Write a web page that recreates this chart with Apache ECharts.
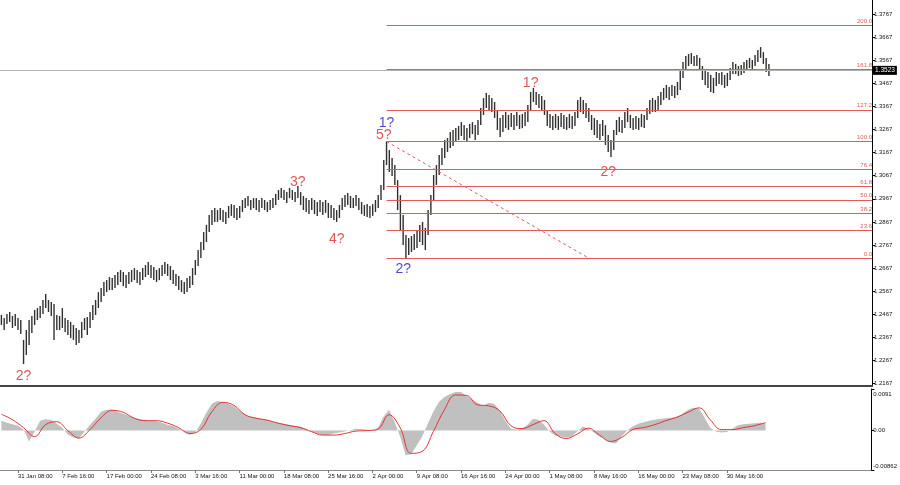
<!DOCTYPE html>
<html><head><meta charset="utf-8">
<script src="https://cdn.jsdelivr.net/npm/echarts@6/dist/echarts.min.js"></script>
<style>html,body{margin:0;padding:0;background:#fff}#c{width:900px;height:485px}</style>
</head><body><div id="c"></div>
<script>
// 8-hour bars (GBP/USD style), highs and lows
const highs = [
1.2464,1.2451,1.2468,1.2477,1.2460,1.2468,1.2451,1.2442,1.2356,1.2399,
1.2442,1.2460,1.2486,1.2494,1.2503,1.2529,1.2555,1.2529,1.2520,1.2512,
1.2464,1.2460,1.2494,1.2451,1.2442,1.2434,1.2421,1.2408,1.2399,1.2434,
1.2451,1.2455,1.2477,1.2507,1.2529,1.2563,1.2581,1.2607,1.2615,1.2628,
1.2624,1.2637,1.2650,1.2659,1.2650,1.2637,1.2650,1.2659,1.2667,1.2659,
1.2650,1.2667,1.2680,1.2693,1.2680,1.2672,1.2659,1.2667,1.2680,1.2693,
1.2685,1.2676,1.2659,1.2641,1.2633,1.2615,1.2607,1.2624,1.2633,1.2667,
1.2702,1.2745,1.2780,1.2823,1.2854,1.2897,1.2918,1.2927,1.2918,1.2927,
1.2918,1.2910,1.2936,1.2944,1.2940,1.2927,1.2936,1.2962,1.2970,1.2979,
1.2962,1.2970,1.2970,1.2962,1.2970,1.2962,1.2953,1.2962,1.2970,1.2988,
1.3005,1.3014,1.3005,1.2996,1.3014,1.3005,1.2996,1.3022,1.2996,1.2979,
1.2970,1.2962,1.2970,1.2962,1.2953,1.2962,1.2953,1.2962,1.2949,1.2940,
1.2927,1.2918,1.2940,1.2970,1.2983,1.2992,1.2979,1.2970,1.2983,1.2970,
1.2953,1.2940,1.2944,1.2936,1.2944,1.2962,1.2983,1.3027,1.3135,1.3215,
1.3178,1.3144,1.3113,1.3048,1.2983,1.2897,1.2810,1.2797,1.2806,1.2815,
1.2832,1.2854,1.2867,1.2841,1.2918,1.2983,1.3070,1.3113,1.3157,1.3187,
1.3221,1.3230,1.3256,1.3265,1.3273,1.3282,1.3299,1.3286,1.3273,1.3291,
1.3299,1.3286,1.3308,1.3360,1.3403,1.3425,1.3416,1.3403,1.3386,1.3351,
1.3317,1.3330,1.3343,1.3330,1.3338,1.3330,1.3343,1.3330,1.3334,1.3343,
1.3373,1.3429,1.3447,1.3429,1.3421,1.3412,1.3395,1.3351,1.3334,1.3325,
1.3334,1.3325,1.3338,1.3330,1.3321,1.3334,1.3325,1.3343,1.3395,1.3408,
1.3395,1.3382,1.3360,1.3330,1.3317,1.3308,1.3291,1.3308,1.3286,1.3243,
1.3221,1.3265,1.3308,1.3321,1.3308,1.3343,1.3360,1.3330,1.3317,1.3325,
1.3317,1.3334,1.3330,1.3360,1.3395,1.3403,1.3395,1.3412,1.3429,1.3447,
1.3460,1.3451,1.3460,1.3455,1.3473,1.3525,1.3559,1.3585,1.3594,1.3598,
1.3585,1.3590,1.3577,1.3542,1.3525,1.3516,1.3503,1.3490,1.3516,1.3512,
1.3516,1.3503,1.3512,1.3533,1.3559,1.3551,1.3542,1.3546,1.3559,1.3568,
1.3577,1.3568,1.3590,1.3611,1.3624,1.3602,1.3577,1.3551];
const lows = [
1.2421,1.2399,1.2425,1.2434,1.2408,1.2416,1.2399,1.2382,1.2252,1.2291,
1.2334,1.2386,1.2421,1.2442,1.2451,1.2468,1.2494,1.2477,1.2460,1.2356,
1.2399,1.2399,1.2408,1.2390,1.2377,1.2364,1.2356,1.2334,1.2343,1.2364,
1.2399,1.2377,1.2408,1.2442,1.2464,1.2494,1.2520,1.2546,1.2563,1.2572,
1.2572,1.2581,1.2594,1.2607,1.2589,1.2581,1.2598,1.2607,1.2615,1.2603,
1.2594,1.2615,1.2628,1.2637,1.2624,1.2615,1.2607,1.2615,1.2633,1.2641,
1.2633,1.2615,1.2598,1.2589,1.2572,1.2563,1.2555,1.2563,1.2581,1.2594,
1.2637,1.2676,1.2711,1.2745,1.2780,1.2823,1.2854,1.2867,1.2867,1.2875,
1.2867,1.2858,1.2884,1.2893,1.2884,1.2875,1.2884,1.2910,1.2927,1.2936,
1.2918,1.2927,1.2918,1.2910,1.2927,1.2918,1.2910,1.2918,1.2927,1.2940,
1.2962,1.2970,1.2962,1.2949,1.2970,1.2962,1.2953,1.2970,1.2940,1.2918,
1.2910,1.2901,1.2918,1.2901,1.2893,1.2910,1.2897,1.2906,1.2884,1.2884,
1.2875,1.2867,1.2884,1.2918,1.2931,1.2940,1.2927,1.2927,1.2936,1.2918,
1.2901,1.2893,1.2888,1.2884,1.2893,1.2910,1.2927,1.2962,1.3005,1.3113,
1.3083,1.3066,1.3027,1.2918,1.2832,1.2767,1.2710,1.2724,1.2737,1.2745,
1.2754,1.2780,1.2767,1.2745,1.2810,1.2897,1.2962,1.3027,1.3070,1.3113,
1.3144,1.3170,1.3187,1.3196,1.3213,1.3221,1.3239,1.3221,1.3213,1.3230,
1.3247,1.3221,1.3243,1.3286,1.3330,1.3360,1.3351,1.3343,1.3317,1.3265,
1.3234,1.3256,1.3273,1.3265,1.3278,1.3265,1.3282,1.3269,1.3273,1.3282,
1.3299,1.3351,1.3386,1.3373,1.3360,1.3351,1.3330,1.3282,1.3273,1.3265,
1.3273,1.3265,1.3278,1.3269,1.3265,1.3273,1.3269,1.3282,1.3317,1.3343,
1.3334,1.3317,1.3299,1.3265,1.3243,1.3230,1.3221,1.3239,1.3200,1.3170,
1.3148,1.3178,1.3243,1.3256,1.3252,1.3273,1.3299,1.3273,1.3265,1.3269,
1.3265,1.3278,1.3273,1.3308,1.3334,1.3343,1.3343,1.3351,1.3373,1.3395,
1.3403,1.3395,1.3412,1.3403,1.3416,1.3438,1.3490,1.3525,1.3542,1.3551,
1.3542,1.3542,1.3525,1.3481,1.3460,1.3447,1.3429,1.3425,1.3455,1.3464,
1.3460,1.3447,1.3455,1.3481,1.3507,1.3507,1.3499,1.3503,1.3512,1.3525,
1.3533,1.3525,1.3542,1.3559,1.3577,1.3551,1.3516,1.3499];

// MACD histogram (one value every 2 bars) and signal line (one value every 4 bars)
const macdHist = [
0.00217,0.00173,0.00141,0.00108,0.00022,-0.00238,-0.00022,0.00217,0.00249,0.00238,
0.00152,0.00065,-0.00087,-0.00152,-0.00173,-0.00022,0.0013,0.0026,0.00412,0.00455,
0.00455,0.00412,0.00368,0.00325,0.00282,0.00249,0.00238,0.00217,0.00206,0.00173,
0.0013,0.00098,0.00043,-0.00022,-0.00098,-0.00043,0.00152,0.0039,0.00585,0.0065,
0.00628,0.00585,0.00531,0.00433,0.00347,0.00303,0.00282,0.0026,0.00238,0.00195,
0.00173,0.00152,0.0013,0.00108,0.00087,0.00033,-0.00022,-0.00065,-0.00098,-0.00098,
-0.00065,-0.00043,-0.00022,0.00011,0.00043,0.00033,0.00022,-0.00011,0.00065,0.00303,
0.00455,0.00195,-0.0013,-0.00542,-0.0052,-0.00325,-0.0013,0.00152,0.00412,0.00628,
0.00737,0.00802,0.00845,0.00845,0.00758,0.00683,0.00607,0.00542,0.00607,0.00585,
0.00433,0.00217,0.00043,0.00022,0.00043,0.0013,0.0026,0.00238,0.0013,-0.00022,
-0.00108,-0.0013,-0.00152,-0.0013,-0.00022,0.00087,0.00043,-0.00043,-0.0013,-0.00195,
-0.0026,-0.00282,-0.0013,0,0.00087,0.00152,0.00184,0.00217,0.00238,0.0026,
0.00271,0.00282,0.00303,0.00368,0.00455,0.00498,0.00477,0.00282,0.00065,-0.00022,
-0.00043,-0.00033,0.00043,0.00119,0.00141,0.00152,0.00163,0.00173,0.00163];
const macdSignal = [
0.00358,0.00238,0.00065,-0.0013,0.0013,0.00195,0,-0.00163,0.00022,0.00282,
0.00444,0.00401,0.00271,0.00217,0.00217,0.00163,0.00065,-0.00065,0.00022,0.00412,
0.00618,0.00553,0.00347,0.00271,0.00228,0.00163,0.00108,0.00065,-0.00022,-0.00098,
-0.00098,-0.00065,-0.00011,0,0.00033,0.00347,0.00065,-0.00498,-0.00455,-0.00022,
0.00455,0.0078,0.00769,0.00563,0.00542,0.00433,0.00108,0.00043,0.0013,0.00217,
-0.00065,-0.00173,-0.00076,0.00054,-0.00098,-0.00238,-0.00152,0.00022,0.00065,0.0013,
0.00217,0.00293,0.00401,0.00498,0.00238,0.00022,0.00022,0.00065,0.00108,0.00173];
const histStep = 2, signalStep = 4;

// time axis labels (every 16 eight-hour bars starting at bar 6)
const tickLabels = ['31 Jan 08:00','7 Feb 16:00','17 Feb 00:00','24 Feb 08:00','3 Mar 16:00','11 Mar 00:00',
 '18 Mar 08:00','25 Mar 16:00','2 Apr 00:00','9 Apr 08:00','16 Apr 16:00','24 Apr 00:00','1 May 08:00',
 '8 May 16:00','16 May 00:00','23 May 08:00','30 May 16:00'];
const firstTickBar = 6, tickStep = 16;

// price axis labels
const priceTicks = [1.2167,1.2267,1.2367,1.2467,1.2567,1.2667,1.2767,1.2867,1.2967,1.3067,1.3167,1.3267,1.3367,1.3467,1.3567,1.3667,1.3767];
const macdTicks = [0.0091, 0, -0.00862];
const bidPrice = 1.3523;

// Fibonacci tool
const fibLow = 1.2710, fibHigh = 1.3215, fibStartBar = 139, fibDiagEndBar = 212;
const fibRatios = [0, 23.6, 38.2, 50, 61.8, 76.4, 100, 127.2, 161.8, 200];

// wave labels: [text, bar, price, colour group]
const waveLabels = [
 ['2?', 8, 1.2200, 'r'], ['3?', 107, 1.3040, 'r'], ['4?', 121, 1.2793, 'r'],
 ['1?', 139, 1.3295, 'b'], ['5?', 138, 1.3243, 'r'], ['2?', 145, 1.2663, 'b'],
 ['1?', 191, 1.3468, 'r'], ['2?', 219, 1.3083, 'r']];

const XMAX = 314.2;
const RED = '#d92a2a', BLUE = '#1c1cb8', FIB = '#e25a5a';
const FONT = 'Liberation Sans';
const tickBars = tickLabels.map((_, j) => firstTickBar + j * tickStep);

const fibLines = fibRatios.map(r => {
  const v = fibLow + (fibHigh - fibLow) * r / 100;
  return [{name: r.toFixed(1), coord: [fibStartBar, v]}, {coord: [XMAX, v]}];
});
fibLines.push([{coord: [fibStartBar, fibHigh], lineStyle: {type: [3, 3], color: FIB}, label: {show: false}},
               {coord: [fibDiagEndBar, fibLow]}]);
fibLines.push([{coord: [-0.5, bidPrice], lineStyle: {color: '#b4b4b4', type: 'solid'},
   label: {show: true, position: 'end', distance: 1, formatter: bidPrice.toFixed(4), color: '#fff',
           backgroundColor: '#000', padding: [1, 2, 1, 2], fontSize: 6.5, fontFamily: FONT}},
   {coord: [XMAX, bidPrice]}]);

const chart = echarts.init(document.getElementById('c'), null, {renderer: 'canvas'});
chart.setOption({
  animation: false,
  backgroundColor: '#fff',
  grid: [{left: 0, right: 28, top: 0, height: 386}, {left: 0, right: 28, top: 389, height: 81}],
  xAxis: [
    {type: 'value', gridIndex: 0, min: -0.5, max: XMAX, splitLine: {show: false},
     axisLine: {show: true, onZero: false, lineStyle: {color: '#454545', width: 2}},
     axisTick: {show: false}, axisLabel: {show: false}},
    {type: 'value', gridIndex: 1, min: -0.5, max: XMAX, splitLine: {show: false},
     axisLine: {show: true, onZero: false, lineStyle: {color: '#8a8a8a', width: 1}},
     axisTick: {show: true, customValues: tickBars, length: 3, lineStyle: {color: '#777'}},
     axisLabel: {show: true, customValues: tickBars, align: 'left', margin: 3, fontSize: 6, color: '#111', fontFamily: FONT,
       formatter: v => tickLabels[Math.round((v - firstTickBar) / tickStep)] || ''}}
  ],
  yAxis: [
    {type: 'value', gridIndex: 0, position: 'right', min: 1.21566, max: 1.38276, splitLine: {show: false},
     axisLine: {show: true, onZero: false, lineStyle: {color: '#000', width: 1}},
     axisTick: {show: true, inside: false, customValues: priceTicks, length: 3, lineStyle: {color: '#000'}},
     axisLabel: {show: true, customValues: priceTicks, margin: 2, fontSize: 6, color: '#111', fontFamily: FONT,
       formatter: v => v.toFixed(4)}},
    {type: 'value', gridIndex: 1, position: 'right', min: -0.00862, max: 0.0091, splitLine: {show: false},
     axisLine: {show: true, onZero: false, lineStyle: {color: '#000', width: 1}},
     axisTick: {show: true, customValues: macdTicks, length: 3, lineStyle: {color: '#000'}},
     axisLabel: {show: true, customValues: macdTicks, margin: 2, fontSize: 6, color: '#111', fontFamily: FONT,
       formatter: v => v === 0 ? '0.00' : (v > 0 ? '{t|' + v + '}' : '{b|' + v + '}'),
       rich: {t: {fontSize: 6, fontFamily: FONT, color: '#111', padding: [10, 0, 0, 0]},
              b: {fontSize: 6, fontFamily: FONT, color: '#111', padding: [0, 0, 8, 0]}}}}
  ],
  series: [
    {type: 'custom', xAxisIndex: 0, yAxisIndex: 0, silent: true,
     data: highs.map((h, i) => [i, lows[i], h]),
     encode: {x: 0, y: [1, 2]},
     renderItem: (params, api) => {
       const i = api.value(0);
       const lo = api.coord([i, api.value(1)]);
       const hi = api.coord([i, api.value(2)]);
       return {type: 'rect', shape: {x: lo[0] - 0.7, y: hi[1], width: 1.4, height: Math.max(1, lo[1] - hi[1])},
               style: {fill: '#303030'}};
     }},
    {type: 'scatter', xAxisIndex: 0, yAxisIndex: 0, silent: true, symbolSize: 1,
     itemStyle: {color: 'rgba(0,0,0,0)'},
     label: {show: true, position: 'inside', formatter: '{b}', fontSize: 14, fontFamily: FONT},
     data: waveLabels.map(w => ({name: w[0], value: [w[1], w[2]], label: {color: w[3] === 'b' ? BLUE : RED}})),
     markLine: {silent: true, symbol: ['none', 'none'], animation: false,
       lineStyle: {color: FIB, width: 1, type: 'solid'},
       label: {show: true, position: 'insideEndTop', formatter: '{b}', color: FIB, fontSize: 6, fontFamily: FONT, distance: [0, 1]},
       emphasis: {disabled: true},
       data: fibLines}},
    {type: 'line', xAxisIndex: 1, yAxisIndex: 1, silent: true, showSymbol: false,
     data: macdHist.map((v, j) => [j * histStep, v]),
     lineStyle: {width: 0}, areaStyle: {color: '#c0c0c0', opacity: 1}},
    {type: 'line', xAxisIndex: 1, yAxisIndex: 1, silent: true, showSymbol: false, smooth: 0.4,
     data: macdSignal.map((v, i) => [i * signalStep, v]),
     lineStyle: {width: 1, color: '#e03434'}}
  ]
});
</script></body></html>
